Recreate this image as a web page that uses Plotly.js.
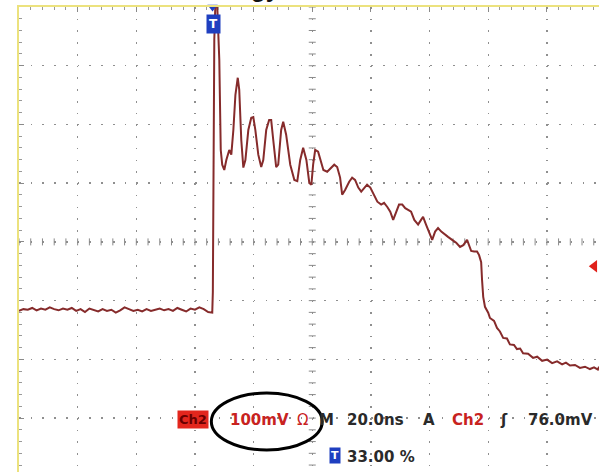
<!DOCTYPE html>
<html><head><meta charset="utf-8">
<script src="https://cdn.plot.ly/plotly-3.0.1.min.js"></script>
<style>html,body{margin:0;padding:0;background:#fff}#chart{width:599px;height:472px}</style>
</head><body><div id="chart"></div>
<script>
// Oscilloscope capture, Ch2. Time in ns (trigger at 0), voltage in mV.
const timeNs = [
  -66,-64.5,-63,-61.5,-60,-58.5,-57,-55.5,-54,-52.5,-51,-49.5,-48,-46.5,-45,-43.5,-42,-40.5,-39,-37.5,-36,-34.5,
  -33,-31.5,-30,-28.5,-27,-25.5,-24,-22.5,-21,-19.5,-18,-16.5,-15,-13.5,-12,-10.5,-9,-7.5,-6,-4.5,-3,-1.5,
  -0.1,0.1,0.3,0.6,0.95,1.6,2.3,2.8,3.3,4.0,4.7,5.7,6.4,7.1,7.8,8.6,9.1,9.8,10.5,11.2,12.2,13.2,13.9,14.6,
  15.6,16.6,17.3,18.3,19.3,20.0,20.7,21.7,22.4,23.4,24.1,25.1,26.5,27.9,28.9,29.9,30.9,32.0,33.0,33.7,34.3,
  35.0,36.0,36.7,37.8,39.1,40.5,41.5,42.5,43.5,44.2,45.2,46.6,47.6,48.6,49.7,50.7,51.7,52.7,53.8,55.1,56.2,
  57.5,58.5,59.6,60.6,61.6,62.6,63.6,64.7,65.7,66.7,67.7,68.8,70.1,71.1,71.8,72.8,73.9,74.9,75.9,76.9,78.0,
  79.3,80.3,81.7,83.1,84.4,85.5,86.8,87.5,88.2,89.2,90.2,90.9,91.6,91.9,92.3,92.9,94.0,94.6,96.0,97.0,98.0,
  99.1,100.4,101.4,102.8,103.8,104.9,105.9,107.6,109.3,110.7,112.4,114.1,115.8,117.5,119.2,120.5,121.9,
  123.6,125.3,127.0,128.7,130.1,131.4,131.8
];
const ch2mV = [
  0,3,2,5,1,4,2,6,3,1,4,2,5,0,3,-2,4,1,-1,3,0,2,
  -3,1,6,3,0,2,-1,3,0,2,4,1,3,0,5,2,-1,4,2,6,3,-2,
  -3,32,291,462,520,520,428,274,249,240,257,274,266,308,368,397,377,291,244,257,308,329,330,308,
  266,245,257,308,325,325,291,245,249,308,322,300,249,223,221,257,278,257,218,215,249,
  274,271,257,240,237,244,249,245,227,198,206,220,227,223,210,203,210,215,210,196,186,
  181,184,177,169,155,167,181,181,175,172,169,155,147,155,160,147,135,121,135,141,135,
  129,126,121,116,109,112,121,112,102,101,101,95,83,53,24,7,-3,-12,-17,-29,-35,
  -46,-47,-57,-58,-65,-64,-72,-73,-80,-78,-85,-83,-89,-86,-91,-88,-93,
  -92,-97,-95,-99,-96,-100,-95
];
const mVperDiv = 100;
const nsPerDiv = 20;
const triggerLevel = 76.0;   // mV
const triggerPosPct = 33.00; // %
const row1 = ["100mV", "\u03A9", "M", "20.0ns", "A", "Ch2", "\u0283", "76.0mV"];

const W = 599, H = 472, ML = 18.5, MT = 7.2;
const xStart = -triggerPosPct / 100 * 10 * nsPerDiv;  // -66 ns
const pxPerDiv = 58.7;
const xEnd = xStart + (W - ML) / pxPerDiv * nsPerDiv;
const yTop = 517.5, yBottom = yTop - (H - MT) / pxPerDiv * mVperDiv;
const yCenter = yTop - 4 * mVperDiv, xCenter = xStart + 5 * nsPerDiv;

const PX = p => (p - ML) / (W - ML);
const PY = p => (H - p) / (H - MT);

// graticule crosshair ticks
const chx = [], chy = [];
for (let t = xStart; t <= xEnd + 0.01; t += nsPerDiv / 5) { chx.push(t); chy.push(yCenter); }
const cvx = [], cvy = [];
for (let v = yTop; v >= yBottom - 0.01; v -= mVperDiv / 5) { cvx.push(xCenter); cvy.push(v); }

const traces = [
  {x: chx, y: chy, mode: 'markers', hoverinfo: 'skip', showlegend: false,
   marker: {symbol: 'line-ns', size: 5, line: {width: 1, color: '#8a8a8a'}}},
  {x: cvx, y: cvy, mode: 'markers', hoverinfo: 'skip', showlegend: false,
   marker: {symbol: 'line-ew', size: 5, line: {width: 1, color: '#8a8a8a'}}},
  {x: timeNs, y: ch2mV, mode: 'lines', name: 'Ch2', showlegend: false,
   line: {color: '#862b2b', width: 2}},
  {x: [xEnd - 1.6], y: [triggerLevel], mode: 'markers', showlegend: false, cliponaxis: false,
   marker: {symbol: 'triangle-left', size: 11, color: '#e0201a'}},
  {x: [0], y: [yTop], mode: 'markers', showlegend: false, cliponaxis: false,
   marker: {symbol: 'triangle-down', size: 9, color: '#1f3fc0'}}
];

const dash = '1.6px,10.14px';
const f = (s, c, b) => ({family: 'DejaVu Sans', size: s, color: c, weight: b ? 'bold' : 'normal'});
const ann = (txt, px, py, font, extra) => Object.assign({
  text: txt, xref: 'paper', yref: 'paper', x: PX(px), y: PY(py),
  xanchor: 'left', yanchor: 'middle', showarrow: false, font: font, borderpad: 0
}, extra || {});

const red = '#c8231f', dark = '#2a2a2a';
const annotations = [
  ann('gy', 250, 3, {family: 'Liberation Sans', size: 24, color: '#111', weight: 'bold'}, {yanchor: 'bottom', borderpad: 0}),
  ann('<b>T</b>', 213, 24, f(12, '#ffffff', true), {xanchor: 'center', bgcolor: '#1f3fc0', borderpad: 2}),
  ann('Ch2', 192.5, 420, f(13, '#6a0000', true), {xanchor: 'center', bgcolor: '#e3261d', borderpad: 1}),
  ann(row1[0], 229, 420, f(15, red, true)),
  ann(row1[1], 296, 420, f(15, red, false)),
  ann(row1[2], 318, 420, f(15, dark, true)),
  ann(row1[3], 346, 420, f(15, dark, true)),
  ann(row1[4], 422, 420, f(15, dark, true)),
  ann(row1[5], 451, 420, f(15, red, true)),
  ann(row1[6], 499, 420, f(15, dark, true)),
  ann(row1[7], 527, 420, f(15, dark, true)),
  ann('<b>T</b>', 334.5, 456, f(11, '#ffffff', true), {xanchor: 'center', bgcolor: '#1f3fc0', borderpad: 1}),
  ann(triggerPosPct.toFixed(2) + ' %', 346, 457, f(15, dark, true))
];

const layout = {
  width: W, height: H,
  margin: {l: ML, r: 0, t: MT, b: 0, pad: 0},
  paper_bgcolor: '#ffffff', plot_bgcolor: '#ffffff',
  showlegend: false,
  xaxis: {range: [xStart, xEnd], tick0: xStart, dtick: nsPerDiv, side: 'top',
    showgrid: true, gridcolor: '#8f8f8f', gridwidth: 1.4, griddash: dash, zeroline: false,
    showticklabels: false, ticks: 'inside', ticklen: 5, tickcolor: '#8a8a8a',
    minor: {tick0: xStart, dtick: nsPerDiv / 5, ticks: 'inside', ticklen: 3, tickcolor: '#9a9a9a', showgrid: false},
    showline: true, linecolor: '#ece27e', linewidth: 2, fixedrange: true},
  yaxis: {range: [yBottom, yTop], tick0: yTop, dtick: mVperDiv,
    showgrid: true, gridcolor: '#8f8f8f', gridwidth: 1.4, griddash: dash, zeroline: false,
    showticklabels: false, ticks: 'inside', ticklen: 5, tickcolor: '#8a8a8a',
    minor: {tick0: yTop, dtick: mVperDiv / 5, ticks: 'inside', ticklen: 3, tickcolor: '#9a9a9a', showgrid: false},
    showline: true, linecolor: '#ece27e', linewidth: 2, fixedrange: true},
  annotations: annotations,
  shapes: [{type: 'circle', xref: 'paper', yref: 'paper',
    x0: PX(211), x1: PX(322), y0: PY(450), y1: PY(393),
    line: {color: '#000000', width: 3}}]
};

Plotly.newPlot('chart', traces, layout, {staticPlot: true, displayModeBar: false});
</script></body></html>
